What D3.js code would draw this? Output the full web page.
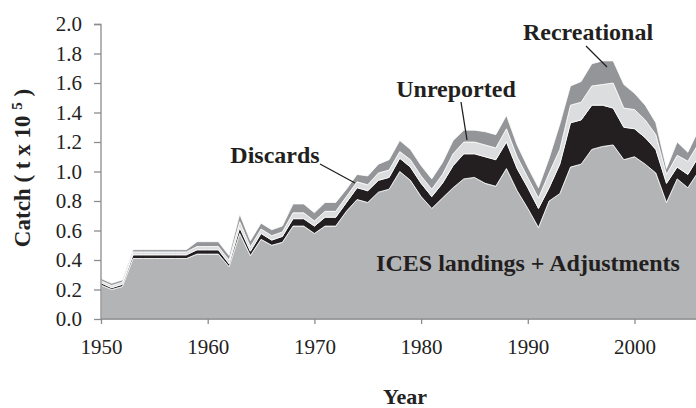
<!DOCTYPE html>
<html><head><meta charset="utf-8">
<script src="https://cdn.jsdelivr.net/npm/d3@7"></script>
<style>
html,body{margin:0;padding:0;background:#fff;}
svg{display:block;}
svg text{font-family:"Liberation Serif","Times New Roman","DejaVu Serif",serif;}
</style></head>
<body><svg id="chart" width="696" height="408"></svg>
<script>
const years = d3.range(1950, 2007);
const ices = [0.23,0.20,0.22,0.41,0.41,0.41,0.41,0.41,0.41,0.44,0.44,0.44,0.355,0.58,0.43,0.54,0.50,0.52,0.63,0.63,0.58,0.63,0.63,0.73,0.81,0.79,0.86,0.88,1.00,0.94,0.83,0.75,0.82,0.89,0.95,0.96,0.92,0.90,1.02,0.87,0.75,0.62,0.80,0.85,1.03,1.05,1.15,1.17,1.18,1.08,1.10,1.05,0.99,0.79,0.95,0.89,1.00];
const unreported = [0.015,0.012,0.015,0.025,0.025,0.025,0.025,0.025,0.025,0.029,0.029,0.029,0.02,0.04,0.03,0.04,0.035,0.04,0.05,0.05,0.05,0.06,0.06,0.06,0.08,0.08,0.08,0.08,0.09,0.09,0.09,0.08,0.10,0.15,0.17,0.16,0.18,0.18,0.18,0.15,0.14,0.13,0.09,0.20,0.30,0.30,0.30,0.28,0.25,0.22,0.19,0.18,0.16,0.13,0.08,0.09,0.10];
const discards = [0.015,0.015,0.015,0.02,0.02,0.02,0.02,0.02,0.02,0.022,0.022,0.022,0.025,0.04,0.03,0.03,0.03,0.03,0.04,0.04,0.035,0.04,0.04,0.04,0.04,0.04,0.05,0.05,0.045,0.05,0.05,0.05,0.06,0.08,0.08,0.08,0.08,0.08,0.09,0.08,0.07,0.07,0.10,0.10,0.12,0.12,0.13,0.14,0.17,0.13,0.13,0.12,0.10,0.06,0.08,0.09,0.09];
const recreational = [0.015,0.015,0.015,0.015,0.015,0.015,0.015,0.015,0.015,0.033,0.033,0.033,0.03,0.05,0.04,0.04,0.04,0.04,0.06,0.06,0.055,0.06,0.06,0.05,0.05,0.06,0.06,0.07,0.075,0.07,0.07,0.07,0.08,0.09,0.08,0.08,0.09,0.09,0.09,0.08,0.07,0.07,0.10,0.17,0.13,0.14,0.15,0.16,0.15,0.16,0.11,0.10,0.08,0.04,0.09,0.06,0.09];
const yTicks = [0.0,0.2,0.4,0.6,0.8,1.0,1.2,1.4,1.6,1.8,2.0];
const xTicks = [1950,1960,1970,1980,1990,2000];
const keys = ["ices","unreported","discards","recreational"];
const colors = {ices:"#b3b4b6", unreported:"#231f20", discards:"#dcdddf", recreational:"#939598"};

const rows = years.map((y,i)=>({year:y, ices:ices[i], unreported:unreported[i], discards:discards[i], recreational:recreational[i]}));
const svg = d3.select("#chart");
const x = d3.scaleLinear().domain([1950,2010]).range([101,101+640.2]);
const y = d3.scaleLinear().domain([0,2]).range([319,24]);

const stack = d3.stack().keys(keys)(rows);
const area = d3.area().x(d=>x(d.data.year)).y0(d=>y(d[0])).y1(d=>y(d[1]));

svg.append("g").selectAll("path").data(stack).join("path")
  .attr("d", area).attr("fill", d=>colors[d.key])
  .attr("stroke","#fff").attr("stroke-width",0.8).attr("stroke-linejoin","miter");
svg.append("rect").attr("x",101).attr("y",318.5).attr("width",600).attr("height",1).attr("fill","#b3b4b6");

// axes
const axisColor = "#8c8c8c";
const yAxis = svg.append("g").attr("transform","translate(101,0)")
  .call(d3.axisLeft(y).tickValues(yTicks).tickFormat(d3.format(".1f")).tickSize(7).tickPadding(12));
const xAxis = svg.append("g").attr("transform","translate(0,319)")
  .call(d3.axisBottom(x).tickValues(xTicks).tickFormat(d3.format("d")).tickSize(5).tickPadding(10));
[yAxis,xAxis].forEach(g=>{
  g.attr("font-family",null);
  g.select(".domain").attr("stroke",axisColor).attr("stroke-width",1.3);
  g.selectAll(".tick line").attr("stroke",axisColor).attr("stroke-width",1.3);
  g.selectAll("text").attr("font-size",21).attr("fill","#222");
});
yAxis.select(".domain").attr("d","M-7,24.5H0V319");
xAxis.select(".domain").attr("d","M101,0H696");
xAxis.selectAll("text").attr("dy","0.95em");

// titles
svg.append("text").attr("x",405).attr("y",404).attr("text-anchor","middle")
  .attr("font-weight","bold").attr("font-size",22).attr("fill","#222").text("Year");
const yt = svg.append("text").attr("transform","translate(30,168) rotate(-90)")
  .attr("text-anchor","middle").attr("font-weight","bold").attr("font-size",23).attr("fill","#222");
yt.append("tspan").text("Catch ( t x 10 ");
yt.append("tspan").attr("font-size",15).attr("dy",-8).text("5");
yt.append("tspan").attr("dy",8).text(" )");

// annotations
const lab = (t,xx,yy,fs)=>svg.append("text").attr("x",xx).attr("y",yy).attr("text-anchor","middle")
  .attr("font-weight","bold").attr("font-size",fs).attr("fill","#231f20").text(t);
lab("Recreational",588,40,24);
lab("Unreported",456,97,24);
lab("Discards",275,163,24);
lab("ICES landings + Adjustments",528,271,24);
const line = (x1,y1,x2,y2)=>svg.append("line").attr("x1",x1).attr("y1",y1).attr("x2",x2).attr("y2",y2)
  .attr("stroke","#231f20").attr("stroke-width",1.3);
line(586,46,607,67);
line(461,102,467,140);
line(320,164,355,183);
</script></body></html>
